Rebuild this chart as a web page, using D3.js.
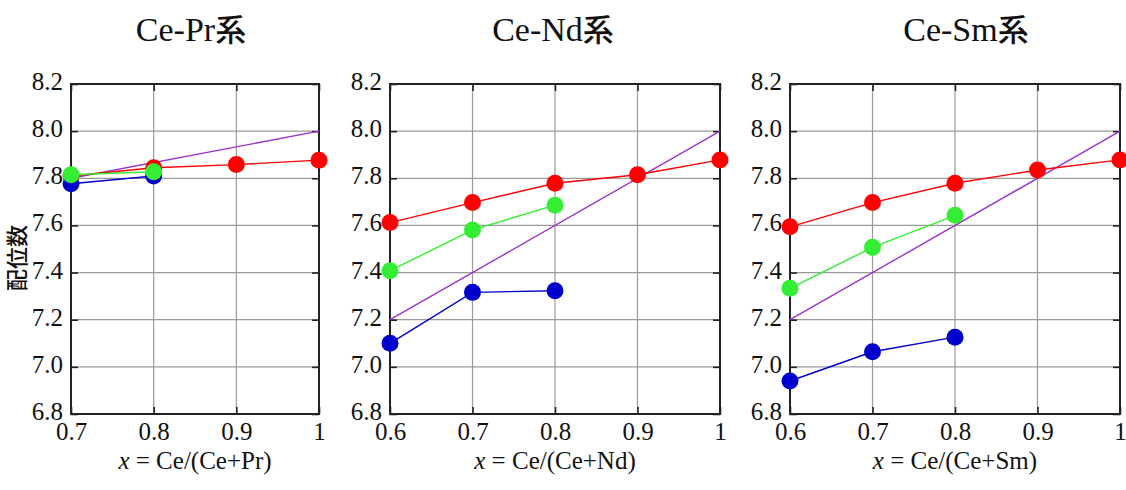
<!DOCTYPE html>
<html><head><meta charset="utf-8">
<script src="https://cdn.jsdelivr.net/npm/d3@7"></script>
<style>
body{margin:0;background:#fff;}
svg{display:block;}
.serif{font-family:"Liberation Serif","Tinos","Times New Roman","Nimbus Roman","DejaVu Serif",serif;}
.cjk{font-family:"Noto Sans CJK JP","Noto Sans CJK SC",sans-serif;}
</style>
</head><body>
<svg id="c" width="1126" height="490"></svg>
<script>
// ---- data ----
const panelTitles = ["Ce-Pr", "Ce-Nd", "Ce-Sm"];
const titleSuffix = "系";
const xAxisLabels = ["Ce/(Ce+Pr)", "Ce/(Ce+Nd)", "Ce/(Ce+Sm)"];
const xDomainMins = [0.7, 0.6, 0.6];
const xTickSets = [[0.7, 0.8, 0.9, 1], [0.6, 0.7, 0.8, 0.9, 1], [0.6, 0.7, 0.8, 0.9, 1]];
const yTicks = [6.8, 7.0, 7.2, 7.4, 7.6, 7.8, 8.0, 8.2];
const yLabel = "配位数";

// red series
const redX = [[0.7, 0.8, 0.9, 1.0], [0.6, 0.7, 0.8, 0.9, 1.0], [0.6, 0.7, 0.8, 0.9, 1.0]];
const redY = [[7.81, 7.845, 7.858, 7.877], [7.612, 7.697, 7.779, 7.815, 7.878], [7.594, 7.697, 7.779, 7.835, 7.878]];
// green series
const greenX = [[0.7, 0.8], [0.6, 0.7, 0.8], [0.6, 0.7, 0.8]];
const greenY = [[7.815, 7.828], [7.408, 7.581, 7.686], [7.333, 7.507, 7.643]];
// blue series
const blueX = [[0.7, 0.8], [0.6, 0.7, 0.8], [0.6, 0.7, 0.8]];
const blueY = [[7.777, 7.81], [7.10, 7.316, 7.323], [6.94, 7.064, 7.126]];
// purple reference line
const purpleX = [[0.7, 1.0], [0.6, 1.0], [0.6, 1.0]];
const purpleY = [[7.8, 8.0], [7.2, 8.0], [7.2, 8.0]];

const colors = {red: "#ff0000", green: "#33ee33", blue: "#0000cc", purple: "#9933cc"};

// ---- layout ----
const panelLeft = [71, 390, 790];
const panelRight = [319, 720, 1120];
const titleCenter = [191, 553, 966];
const plotTop = 84, plotBottom = 414;

const svg = d3.select("#c");

panelTitles.forEach((title, i) => {
  const x = d3.scaleLinear().domain([xDomainMins[i], 1]).range([panelLeft[i], panelRight[i]]);
  const y = d3.scaleLinear().domain([6.8, 8.2]).range([plotBottom, plotTop]);
  const g = svg.append("g");

  // grid
  g.append("g").selectAll("line").data(yTicks.slice(1, -1)).join("line")
    .attr("x1", panelLeft[i]).attr("x2", panelRight[i])
    .attr("y1", d => y(d)).attr("y2", d => y(d))
    .attr("stroke", "#9a9a9a").attr("stroke-width", 1.2);
  g.append("g").selectAll("line").data(xTickSets[i].slice(1, -1)).join("line")
    .attr("x1", d => x(d)).attr("x2", d => x(d))
    .attr("y1", plotTop).attr("y2", plotBottom)
    .attr("stroke", "#9a9a9a").attr("stroke-width", 1.2);

  // axes with inward ticks
  const fmtY = d3.format(".1f");
  const fmtX = d => (d === 1 ? "1" : d3.format(".1f")(d));
  const left = g.append("g").attr("transform", `translate(${panelLeft[i]},0)`)
    .call(d3.axisLeft(y).tickValues(yTicks).tickFormat(fmtY).tickSize(-7).tickPadding(8));
  const right = g.append("g").attr("transform", `translate(${panelRight[i]},0)`)
    .call(d3.axisRight(y).tickValues(yTicks).tickFormat("").tickSize(-7));
  const bot = g.append("g").attr("transform", `translate(0,${plotBottom})`)
    .call(d3.axisBottom(x).tickValues(xTickSets[i]).tickFormat(fmtX).tickSize(-7).tickPadding(8));
  const tp = g.append("g").attr("transform", `translate(0,${plotTop})`)
    .call(d3.axisTop(x).tickValues(xTickSets[i]).tickFormat("").tickSize(-7));
  [left, right, bot, tp].forEach(a => {
    a.attr("font-family", null).attr("font-size", null);
    a.select(".domain").remove();
    a.selectAll(".tick line").attr("stroke", "#222").attr("stroke-width", 1.6);
    a.selectAll("text").attr("class", "serif").style("font-size", "25px").attr("fill", "#111");
  });
  left.selectAll("text").attr("dy", "0.22em");
  bot.selectAll("text").attr("dy", "0.71em");

  // frame
  g.append("rect").attr("x", panelLeft[i]).attr("y", plotTop)
    .attr("width", panelRight[i] - panelLeft[i]).attr("height", plotBottom - plotTop)
    .attr("fill", "none").attr("stroke", "#222").attr("stroke-width", 2);

  const line = d3.line().x(d => x(d[0])).y(d => y(d[1]));
  const drawSeries = (xs, ys, col, dots) => {
    const pts = xs.map((v, k) => [v, ys[k]]);
    g.append("path").datum(pts).attr("d", line).attr("fill", "none")
      .attr("stroke", col).attr("stroke-width", 1.4);
    if (dots) g.append("g").selectAll("circle").data(pts).join("circle")
      .attr("cx", d => x(d[0])).attr("cy", d => y(d[1])).attr("r", 8.5).attr("fill", col);
  };
  drawSeries(purpleX[i], purpleY[i], colors.purple, false);
  drawSeries(redX[i], redY[i], colors.red, true);
  drawSeries(blueX[i], blueY[i], colors.blue, true);
  drawSeries(greenX[i], greenY[i], colors.green, true);

  // title
  const t = svg.append("text").attr("x", titleCenter[i]).attr("y", 41).attr("text-anchor", "middle")
    .attr("class", "serif").style("font-size", "34px").attr("fill", "#111");
  t.append("tspan").text(title);
  t.append("tspan").attr("class", "cjk").style("font-weight", "500").style("font-size", "31px").text(titleSuffix);

  // x label
  const cx = (panelLeft[i] + panelRight[i]) / 2;
  const xl = svg.append("text").attr("x", cx).attr("y", 469).attr("text-anchor", "middle")
    .attr("class", "serif").style("font-size", "25px").attr("fill", "#111");
  xl.append("tspan").style("font-style", "italic").text("x");
  xl.append("tspan").text(" = " + xAxisLabels[i]);
});

// y label
svg.append("text").attr("transform", "translate(15,258) rotate(-90)")
  .attr("text-anchor", "middle").attr("dominant-baseline", "central")
  .attr("class", "cjk").style("font-size", "22px").style("font-weight", "500")
  .attr("fill", "#111").text(yLabel);
</script>
</body></html>
